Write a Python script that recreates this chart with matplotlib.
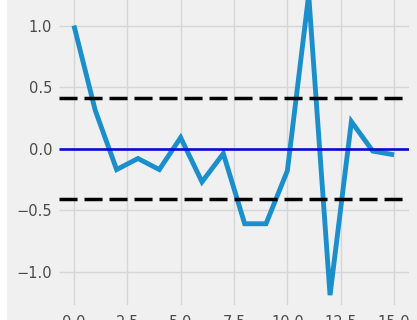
import matplotlib
matplotlib.use("Agg")
import matplotlib.pyplot as plt
from matplotlib.patches import Rectangle

plt.style.use("fivethirtyeight")

# autocorrelation by lag
lags = list(range(16))
acf_values = [1.0, 0.31, -0.17, -0.08, -0.17, 0.09, -0.27, -0.04,
              -0.61, -0.61, -0.18, 1.25, -1.19, 0.22, -0.02, -0.05]
conf_bound = 0.41
xticks = [0.0, 2.5, 5.0, 7.5, 10.0, 12.5, 15.0]
yticks = [-1.0, -0.5, 0.0, 0.5, 1.0]

fig = plt.figure(figsize=(4.17, 3.2), dpi=100, facecolor="#f0f0f0")
ax = fig.add_axes([59 / 417, 15 / 320, 350 / 417, 316.4 / 320])
ax.set_facecolor("#f0f0f0")

ax.plot(lags, acf_values, color="#1a8fcc", lw=3.5, zorder=3,
        solid_joinstyle="miter")
ax.axhline(0, color="#0a0ad0", lw=1.9, zorder=4)
ax.axhline(conf_bound, color="black", lw=2.5, ls=(0, (5.2, 2.0)), zorder=4)
ax.axhline(-conf_bound, color="black", lw=2.5, ls=(0, (5.2, 2.0)), zorder=4)

ax.set_xlim(-0.7, 15.7)
ax.set_ylim(-1.27, 1.30)
ax.set_xticks(xticks)
ax.set_yticks(yticks)
ax.grid(True, color="#d6d6d6", lw=1.0)
ax.tick_params(axis="both", length=0, labelsize=10.5, labelcolor="#4a4a4a")
ax.tick_params(axis="y", pad=5)
ax.tick_params(axis="x", pad=7)
for s in ax.spines.values():
    s.set_visible(False)

fig.patches.append(Rectangle((0, 0), 7 / 417, 1, transform=fig.transFigure,
                             facecolor="white", edgecolor="none", zorder=-1))

fig.savefig("out.png", dpi=100, facecolor=fig.get_facecolor())
